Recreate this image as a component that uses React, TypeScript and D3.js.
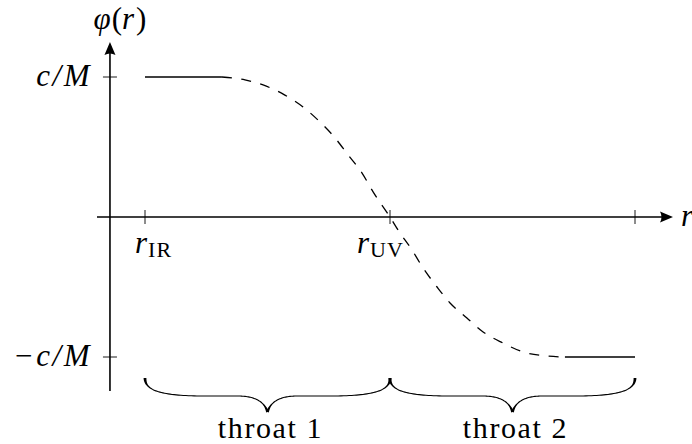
import React from 'react';
import * as d3 from 'd3';

// ---- data (r in units where r_IR = 0, r_UV = 1; phi in units of c/M) ----
const rTicks = [0, 1, 2];
const rTickSubs = ['IR', 'UV', ''];
const phiTicks = [1, -1];
const phiTickLabels = ['c/M', '\u2212c/M'];
const plateauHighR = [0, 0.314];
const plateauHighPhi = [1, 1];
const transitionR = [0.314, 0.408, 0.482, 0.571, 0.645, 0.714, 0.776, 0.829, 0.886, 0.931, 1.0, 1.033, 1.09, 1.135, 1.192, 1.245, 1.314, 1.38, 1.461, 1.543, 1.641, 1.714];
const transitionPhi = [1.0, 0.979, 0.943, 0.871, 0.786, 0.679, 0.564, 0.443, 0.314, 0.179, 0.0, -0.093, -0.236, -0.364, -0.5, -0.614, -0.721, -0.821, -0.9, -0.964, -0.993, -1.0];
const plateauLowR = [1.714, 2];
const plateauLowPhi = [-1, -1];
const throatLabels = ['throat 1', 'throat 2'];
const throatFrom = [0, 1];
const throatTo = [1, 2];

const W = 692;
const H = 444;
const FONT = "'Liberation Serif', 'DejaVu Serif', serif";

type P = [number, number];

function bez(p0: P, p1: P, p2: P, p3: P, t: number): P {
  const u = 1 - t;
  return [
    u * u * u * p0[0] + 3 * u * u * t * p1[0] + 3 * u * t * t * p2[0] + t * t * t * p3[0],
    u * u * u * p0[1] + 3 * u * u * t * p1[1] + 3 * u * t * t * p2[1] + t * t * t * p3[1],
  ];
}

// half brace from an end (x0,y0) to the cusp at xm
function halfBrace(x0: number, xm: number, y0: number, a: number): string {
  const dir = xm > x0 ? 1 : -1;
  const h = 18;
  const X = (d: number) => x0 + dir * d;
  const Xm = (d: number) => xm - dir * d;
  const segs: [P, P, P, P][] = [
    [[X(0), y0], [X(0), y0 + 12], [X(14), y0 + h - 0.5], [X(55), y0 + h]],
    [[X(55), y0 + h], [X(70), y0 + h], [Xm(45), y0 + h], [Xm(30), y0 + h]],
    [[Xm(30), y0 + h], [Xm(12), y0 + h], [Xm(3), y0 + 24], [Xm(0), y0 + a]],
  ];
  const pts: P[] = [];
  segs.forEach((s, i) => {
    const N = 40;
    for (let k = i === 0 ? 0 : 1; k <= N; k++) pts.push(bez(s[0], s[1], s[2], s[3], k / N));
  });
  const cum: number[] = [0];
  for (let i = 1; i < pts.length; i++) {
    cum.push(cum[i - 1] + Math.hypot(pts[i][0] - pts[i - 1][0], pts[i][1] - pts[i - 1][1]));
  }
  const L = cum[cum.length - 1];
  const left: P[] = [];
  const right: P[] = [];
  for (let i = 0; i < pts.length; i++) {
    const a0 = pts[Math.max(0, i - 1)];
    const a1 = pts[Math.min(pts.length - 1, i + 1)];
    let tx = a1[0] - a0[0];
    let ty = a1[1] - a0[1];
    const n = Math.hypot(tx, ty) || 1;
    tx /= n;
    ty /= n;
    const nx = -ty;
    const ny = tx;
    const s = cum[i];
    const w = 1.1 + 1.7 * Math.exp(-Math.pow(s / 7, 2)) + 1.5 * Math.exp(-Math.pow((L - s) / 6, 2));
    left.push([pts[i][0] + (nx * w) / 2, pts[i][1] + (ny * w) / 2]);
    right.push([pts[i][0] - (nx * w) / 2, pts[i][1] - (ny * w) / 2]);
  }
  const all = left.concat(right.reverse());
  return 'M' + all.map((p) => p[0].toFixed(2) + ',' + p[1].toFixed(2)).join('L') + 'Z';
}

export default function App() {
  const x = d3.scaleLinear().domain([0, 2]).range([145, 635]);
  const y = d3.scaleLinear().domain([-1, 1]).range([357, 77]);

  const y0px = y(0);
  const axisX = x(-0.143);
  const xStart = x(-0.196);
  const xTip = 673;
  const yTip = 42;
  const yBottom = 391;

  const line = d3
    .line<[number, number]>()
    .x((d) => x(d[0]))
    .y((d) => y(d[1]));
  const curve = d3
    .line<[number, number]>()
    .x((d) => x(d[0]))
    .y((d) => y(d[1]))
    .curve(d3.curveMonotoneX);

  const high = plateauHighR.map((r, i) => [r, plateauHighPhi[i]] as [number, number]);
  const trans = transitionR.map((r, i) => [r, transitionPhi[i]] as [number, number]);
  const low = plateauLowR.map((r, i) => [r, plateauLowPhi[i]] as [number, number]);

  const braceTop = y(-1) + 21;
  const braceAmp = 34;

  const subDx = [-10, -33, 0];
  const txt = { fontFamily: FONT } as React.CSSProperties;

  return (
    <div style={{ position: 'fixed', left: 0, top: 0 }}>
      <svg width={W} height={H} viewBox={`0 0 ${W} ${H}`} style={{ display: 'block', background: '#fff' }}>
        <rect width={W} height={H} fill="#fff" />
        {/* axes */}
        <line x1={xStart} x2={xTip - 8} y1={y0px} y2={y0px} stroke="#000" strokeWidth={1.6} />
        <line x1={axisX} x2={axisX} y1={yBottom} y2={yTip + 8} stroke="#000" strokeWidth={1.6} />
        <path
          d={`M${xTip},${y0px} L${xTip - 13},${y0px - 5.5} Q${xTip - 10},${y0px} ${xTip - 13},${y0px + 5.5} Z`}
          fill="#000"
        />
        <path
          d={`M${axisX},${yTip} L${axisX - 5.5},${yTip + 13} Q${axisX},${yTip + 10} ${axisX + 5.5},${yTip + 13} Z`}
          fill="#000"
        />
        {/* ticks */}
        {rTicks.map((r) => (
          <line key={'xt' + r} x1={x(r)} x2={x(r)} y1={y0px - 7} y2={y0px + 7} stroke="#000" strokeWidth={0.9} />
        ))}
        {phiTicks.map((p) => (
          <line key={'yt' + p} x1={axisX - 7} x2={axisX + 7} y1={y(p)} y2={y(p)} stroke="#000" strokeWidth={0.9} />
        ))}
        {/* curves */}
        <path d={line(high) || ''} fill="none" stroke="#000" strokeWidth={1.3} />
        <path d={curve(trans) || ''} fill="none" stroke="#000" strokeWidth={1.3} strokeDasharray="10,9.5" />
        <path d={line(low) || ''} fill="none" stroke="#000" strokeWidth={1.3} />
        {/* braces */}
        {throatFrom.map((f, i) => {
          const xl = x(f);
          const xr = x(throatTo[i]);
          const xm = (xl + xr) / 2;
          return (
            <g key={'br' + i}>
              <path d={halfBrace(xl, xm, braceTop, braceAmp)} fill="#000" />
              <path d={halfBrace(xr, xm, braceTop, braceAmp)} fill="#000" />
              <text
                x={xm + 3}
                y={438}
                textAnchor="middle"
                style={txt}
                fontSize={30}
                letterSpacing={1.6}
                fill="#000"
              >
                {throatLabels[i]}
              </text>
            </g>
          );
        })}
        {/* tick labels */}
        {phiTicks.map((p, i) => (
          <text
            key={'yl' + p}
            x={92}
            y={y(p) + 9}
            textAnchor="end"
            style={txt}
            fontSize={31}
            fontStyle="italic"
            letterSpacing={2.5}
            fill="#000"
          >
            {phiTickLabels[i]}
          </text>
        ))}
        {rTicks.map((r, i) =>
          rTickSubs[i] ? (
            <text key={'xl' + r} x={x(r) + subDx[i]} y={y0px + 36} style={txt} fill="#000">
              <tspan fontSize={31} fontStyle="italic">
                r
              </tspan>
              <tspan fontSize={22} dy={4} dx={1} letterSpacing={1}>
                {rTickSubs[i]}
              </tspan>
            </text>
          ) : null
        )}
        <text x={681} y={y0px + 9} style={txt} fontSize={31} fontStyle="italic" fill="#000">
          r
        </text>
        <text x={120} y={29} textAnchor="middle" style={txt} fontSize={31} fill="#000">
          <tspan fontStyle="italic">{'\u03c6'}</tspan>
          <tspan dx={1}>(</tspan>
          <tspan fontStyle="italic">r</tspan>
          <tspan dx={2}>)</tspan>
        </text>
      </svg>
    </div>
  );
}
